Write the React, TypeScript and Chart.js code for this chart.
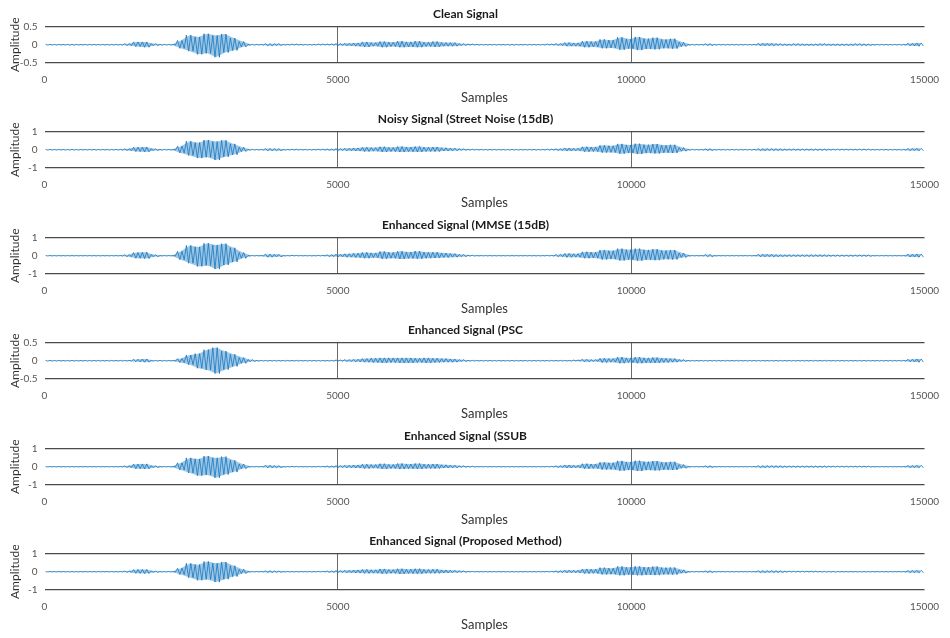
import React, { useEffect, useRef } from "react";
import { Chart, registerables } from "chart.js";

Chart.register(...registerables);

// Each signal is described by its envelope,
// in bins of 150 samples (100 bins over 0..15000). Values are in hundredths.
const BIN_SAMPLES = 150;
const X_MAX = 15000;
const X_TICK_STEP = 5000;

const TITLES = [
  "Clean Signal",
  "Noisy Signal (Street Noise (15dB)",
  "Enhanced Signal (MMSE (15dB)",
  "Enhanced Signal (PSC",
  "Enhanced Signal (SSUB",
  "Enhanced Signal (Proposed Method)",
];
const Y_LIMITS = [0.5, 1, 1, 0.5, 1, 1];

const CLEAN_UP = [1,1,1,1,1,1,1,1,1,3, 8,8,3,1,1,12,27,22,31,26, 30,19,9,1,1,3,3,1,2,1, 1,2,2,3,4,5,8,6,9,7, 10,8,10,7,9,6,6,3,2,1, 1,1,1,1,1,1,1,2,3,6, 5,10,9,15,13,21,16,22,17,20, 15,17,7,1,1,3,1,1,1,1, 1,4,4,3,2,3,2,2,3,2, 2,2,3,2,1,1,1,1,4,5];
const CLEAN_LO = [-1,-1,-1,-1,-1,-1,-1,-1,-1,-2, -5,-7,-2,-1,-1,-10,-18,-27,-24,-35, -22,-16,-6,-1,-1,-3,-2,-1,-1,-1, -1,-1,-1,-2,-3,-4,-6,-4,-7,-5, -7,-6,-7,-5,-6,-4,-4,-2,-1,-1, -1,-1,-1,-1,-1,-1,-1,-1,-2,-4, -4,-7,-6,-10,-9,-14,-11,-15,-12,-13, -10,-11,-5,-1,-1,-2,-1,-1,-1,-1, -1,-3,-3,-2,-2,-2,-2,-2,-2,-2, -2,-2,-2,-2,-1,-1,-1,-1,-3,-4];

const NOISY_UP = [2,2,2,2,2,2,2,2,2,5, 14,15,5,2,2,20,48,40,55,46, 53,33,14,2,2,7,6,2,3,2, 2,3,4,6,8,10,14,12,17,13, 18,15,18,14,15,11,9,5,3,2, 2,2,2,2,2,2,2,3,5,10, 8,17,15,25,22,33,27,34,28,32, 25,28,12,2,2,5,2,2,2,2, 2,6,6,5,4,4,4,4,4,3, 3,3,3,3,2,2,2,2,7,8];
const NOISY_LO = [-2,-2,-2,-2,-2,-2,-2,-2,-2,-4, -10,-12,-4,-2,-2,-18,-32,-47,-42,-58, -40,-28,-10,-2,-2,-6,-5,-2,-2,-2, -2,-2,-3,-4,-6,-7,-10,-8,-12,-10, -13,-11,-12,-10,-10,-7,-6,-3,-2,-2, -2,-2,-2,-2,-2,-2,-2,-2,-4,-7, -6,-11,-10,-16,-15,-22,-18,-24,-19,-21, -17,-18,-8,-2,-2,-4,-2,-2,-2,-2, -2,-5,-4,-4,-3,-3,-3,-3,-3,-2, -2,-2,-2,-2,-2,-2,-2,-2,-5,-6];

const MMSE_UP = [1,1,1,1,1,1,1,1,1,6, 18,20,6,1,1,25,58,50,70,60, 68,45,18,1,1,9,8,1,2,1, 1,2,5,8,11,14,19,16,24,19, 25,21,26,20,20,15,12,7,3,1, 1,1,1,1,1,1,1,2,7,13, 11,22,20,32,28,40,34,40,33,37, 30,32,15,1,1,7,1,1,1,1, 1,8,8,6,5,5,5,5,5,4, 4,4,4,4,1,1,1,1,9,10];
const MMSE_LO = [-1,-1,-1,-1,-1,-1,-1,-1,-1,-5, -14,-16,-5,-1,-1,-22,-42,-60,-55,-75, -52,-35,-14,-1,-1,-8,-6,-1,-1,-1, -1,-1,-4,-6,-8,-10,-14,-11,-17,-14, -18,-15,-17,-14,-13,-10,-8,-5,-2,-1, -1,-1,-1,-1,-1,-1,-1,-1,-5,-9, -8,-14,-13,-21,-19,-27,-22,-28,-23,-25, -20,-21,-10,-1,-1,-5,-1,-1,-1,-1, -1,-6,-6,-5,-4,-4,-4,-4,-4,-3, -3,-3,-3,-3,-1,-1,-1,-1,-7,-8];

const PSC_UP = [1,1,1,1,1,1,1,1,1,1, 4,5,1,1,1,6,16,20,31,37, 27,18,9,3,1,1,1,1,1,1, 1,1,1,2,3,4,6,7,8,8, 8,8,7,8,7,6,5,3,1,1, 1,1,1,1,1,1,1,1,1,1, 2,4,3,7,6,10,8,10,8,9, 7,6,3,1,1,1,1,1,1,1, 1,1,1,1,1,1,1,1,1,1, 1,1,1,1,1,1,1,1,4,5];
const PSC_LO = [-1,-1,-1,-1,-1,-1,-1,-1,-1,-1, -3,-4,-1,-1,-1,-5,-11,-21,-26,-36, -25,-16,-7,-2,-1,-1,-1,-1,-1,-1, -1,-1,-1,-1,-2,-3,-4,-5,-6,-5, -6,-6,-5,-6,-5,-4,-4,-2,-1,-1, -1,-1,-1,-1,-1,-1,-1,-1,-1,-1, -1,-3,-2,-5,-4,-7,-5,-7,-6,-6, -5,-4,-2,-1,-1,-1,-1,-1,-1,-1, -1,-1,-1,-1,-1,-1,-1,-1,-1,-1, -1,-1,-1,-1,-1,-1,-1,-1,-3,-4];

const SSUB_UP = [1,1,1,1,1,1,1,1,1,5, 15,16,5,1,1,22,50,44,60,50, 57,36,15,1,1,8,6,1,2,1, 1,2,4,6,8,10,14,12,17,13, 18,15,18,14,15,11,9,5,3,1, 1,1,1,1,1,1,1,2,5,10, 8,17,15,25,22,33,27,34,28,32, 25,28,12,1,1,5,1,1,1,1, 1,6,6,5,4,4,4,4,4,3, 3,3,3,3,1,1,1,1,7,8];
const SSUB_LO = [-1,-1,-1,-1,-1,-1,-1,-1,-1,-4, -11,-12,-4,-1,-1,-18,-35,-50,-46,-62, -44,-30,-11,-1,-1,-6,-5,-1,-1,-1, -1,-1,-3,-4,-6,-7,-10,-8,-12,-10, -13,-11,-12,-10,-10,-7,-6,-3,-2,-1, -1,-1,-1,-1,-1,-1,-1,-1,-4,-7, -6,-11,-10,-16,-15,-22,-18,-24,-19,-21, -17,-18,-8,-1,-1,-4,-1,-1,-1,-1, -1,-5,-4,-4,-3,-3,-3,-3,-3,-2, -2,-2,-2,-2,-1,-1,-1,-1,-5,-6];

const PROP_UP = [1,1,1,1,1,1,1,1,1,4, 12,13,4,1,1,20,47,40,58,48, 55,34,14,1,1,5,4,1,1,1, 1,2,4,6,8,10,13,11,16,12, 17,14,17,13,14,10,8,5,2,1, 1,1,1,1,1,1,1,2,5,9, 8,15,14,23,20,30,25,30,26,29, 23,24,11,1,1,5,1,1,1,1, 1,6,6,5,3,3,3,3,2,2, 1,1,1,1,1,1,1,1,7,8];
const PROP_LO = [-1,-1,-1,-1,-1,-1,-1,-1,-1,-3, -9,-10,-3,-1,-1,-16,-33,-48,-43,-58, -42,-27,-10,-1,-1,-4,-3,-1,-1,-1, -1,-1,-3,-4,-6,-7,-9,-8,-11,-9, -12,-10,-11,-9,-9,-7,-5,-3,-1,-1, -1,-1,-1,-1,-1,-1,-1,-1,-4,-6, -6,-10,-9,-15,-14,-20,-17,-20,-18,-19, -15,-16,-8,-1,-1,-4,-1,-1,-1,-1, -1,-5,-4,-4,-2,-2,-2,-2,-2,-2, -1,-1,-1,-1,-1,-1,-1,-1,-5,-6];

const UPPERS = [CLEAN_UP, NOISY_UP, MMSE_UP, PSC_UP, SSUB_UP, PROP_UP];
const LOWERS = [CLEAN_LO, NOISY_LO, MMSE_LO, PSC_LO, SSUB_LO, PROP_LO];

const FONT = "Lato, 'Liberation Sans', Arial, sans-serif";
const WAVE = "#0d6fb8";
const PANEL_STEP = 105.4;
const CANVAS_W = 950;
const CANVAS_H = 106;

function Panel({ index }: { index: number }) {
  const ref = useRef<HTMLCanvasElement | null>(null);

  useEffect(() => {
    const canvas = ref.current;
    if (!canvas) return;
    const up = UPPERS[index];
    const lo = LOWERS[index];
    const lim = Y_LIMITS[index];

    // waveform drawn as a dense trace swinging between each bin's envelope values
    const trace: { x: number; y: number }[] = [];
    up.forEach((u, i) => {
      const x0 = i * BIN_SAMPLES;
      trace.push({ x: x0 + BIN_SAMPLES * 0.125, y: u / 100 });
      trace.push({ x: x0 + BIN_SAMPLES * 0.375, y: lo[i] / 100 });
      trace.push({ x: x0 + BIN_SAMPLES * 0.625, y: u / 100 });
      trace.push({ x: x0 + BIN_SAMPLES * 0.875, y: lo[i] / 100 });
    });
    const upPts = up.map((u, i) => ({ x: i * BIN_SAMPLES + BIN_SAMPLES / 2, y: u / 100 }));
    const loPts = lo.map((l, i) => ({ x: i * BIN_SAMPLES + BIN_SAMPLES / 2, y: l / 100 }));

    const chart = new Chart(canvas, {
      type: "line",
      data: {
        datasets: [
          {
            data: upPts,
            borderWidth: 0,
            pointRadius: 0,
            fill: "+1",
            backgroundColor: "rgba(40,130,200,0.45)",
            borderColor: "rgba(0,0,0,0)",
          },
          {
            data: loPts,
            borderWidth: 0,
            pointRadius: 0,
            fill: false,
            borderColor: "rgba(0,0,0,0)",
          },
          {
            data: trace,
            borderWidth: 0.8,
            pointRadius: 0,
            fill: false,
            borderColor: WAVE,
          },
        ],
      },
      options: {
        responsive: false,
        animation: false,
        layout: { padding: { left: 0, right: 19, top: 0, bottom: 0 } },
        plugins: {
          legend: { display: false },
          tooltip: { enabled: false },
          title: {
            display: true,
            text: TITLES[index],
            color: "#1a1a1a",
            font: { family: FONT, size: 12, weight: "bold" },
            padding: { top: 7, bottom: 5.6 },
          },
        },
        scales: {
          x: {
            type: "linear",
            min: 0,
            max: X_MAX,
            ticks: {
              stepSize: X_TICK_STEP,
              padding: 11,
              color: "#555",
              maxRotation: 0,
              autoSkip: false,
              font: { family: FONT, size: 10 },
              callback: (v: any) => String(v),
            },
            grid: {
              drawTicks: false,
              lineWidth: 1,
              color: (ctx: any) =>
                ctx.tick && (ctx.tick.value === 5000 || ctx.tick.value === 10000)
                  ? "#6a6a6a"
                  : "rgba(0,0,0,0)",
            },
            border: { display: false },
            title: {
              display: true,
              text: "Samples",
              color: "#333",
              font: { family: FONT, size: 13 },
              padding: { top: 0, bottom: 0 },
            },
            afterFit: (s: any) => {
              s.height = CANVAS_H - 62.5;
            },
          },
          y: {
            min: -lim,
            max: lim,
            ticks: {
              stepSize: lim,
              padding: 7,
              color: "#555",
              font: { family: FONT, size: 10 },
              callback: (v: any) => String(v),
            },
            grid: {
              drawTicks: false,
              lineWidth: 1.2,
              color: (ctx: any) => (ctx.tick && ctx.tick.value === 0 ? "rgba(0,0,0,0)" : "#4a4a4a"),
            },
            border: { display: false },
            title: {
              display: true,
              text: "Amplitude",
              color: "#333",
              font: { family: FONT, size: 12 },
              padding: { top: 8, bottom: 0 },
            },
            afterFit: (s: any) => {
              s.width = 44.5;
            },
          },
        },
      } as any,
    });
    return () => chart.destroy();
  }, [index]);

  return (
    <canvas
      ref={ref}
      width={CANVAS_W}
      height={CANVAS_H}
      style={{ position: "absolute", left: 0, top: Math.round(PANEL_STEP * index), width: CANVAS_W, height: CANVAS_H }}
    />
  );
}

export default function App() {
  return (
    <div style={{ position: "absolute", left: 0, top: 0, width: 950, height: 638, background: "#fff" }}>
      {TITLES.map((_, i) => (
        <Panel key={i} index={i} />
      ))}
    </div>
  );
}
